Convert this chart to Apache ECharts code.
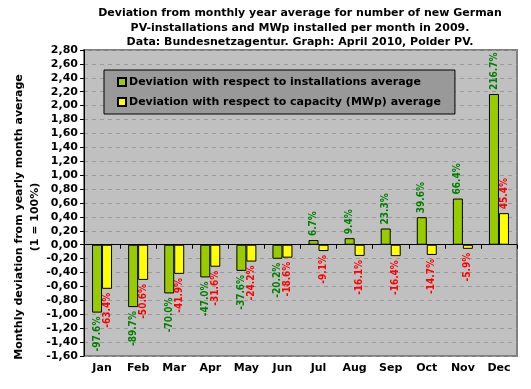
<!DOCTYPE html>
<html>
<head>
<meta charset="utf-8">
<script src="https://cdn.jsdelivr.net/npm/echarts@6/dist/echarts.min.js"></script>
<style>html,body{margin:0;padding:0;background:#fff;}#c{width:531px;height:389px;}</style>
</head>
<body>
<div id="c"></div>
<script>
var months = ['Jan','Feb','Mar','Apr','May','Jun','Jul','Aug','Sep','Oct','Nov','Dec'];
var installDev = [-0.976,-0.897,-0.700,-0.470,-0.376,-0.202,0.067,0.094,0.233,0.396,0.664,2.167];
var capacityDev = [-0.634,-0.506,-0.419,-0.316,-0.242,-0.186,-0.091,-0.161,-0.164,-0.147,-0.059,0.454];
var installName = 'Deviation with respect to installations average';
var capacityName = 'Deviation with respect to capacity (MWp) average';

var FONT = 'DejaVu Sans';
function pct(v){ return (v*100).toFixed(1) + '%'; }
function mkData(arr){
  return arr.map(function(v){
    return {
      value: v,
      label: v >= 0 ?
        {position:'top', align:'left', distance:4} :
        {position:'bottom', align:'right', distance:4}
    };
  });
}
function labelBase(color){
  return {show:true, rotate:90, verticalAlign:'middle', color:color,
    fontFamily:'"DejaVu Sans Condensed", "DejaVu Sans"', fontWeight:'bold', fontSize:10,
    formatter:function(p){return pct(p.value);}};
}
var chart = echarts.init(document.getElementById('c'), null, {renderer:'canvas'});
chart.setOption({
  backgroundColor:'#ffffff',
  animation:false,
  title:{
    text:'Deviation from monthly year average for number of new German\nPV-installations and MWp installed per month in 2009.\nData: Bundesnetzagentur. Graph: April 2010, Polder PV.',
    left:295, top:1, textAlign:'center',
    textStyle:{fontFamily:FONT, fontWeight:'bold', fontSize:11, lineHeight:14.5, color:'#000'}
  },
  legend:{
    orient:'vertical', left:104, top:70,
    backgroundColor:'#999999', borderColor:'#000', borderWidth:1,
    padding:[5,14,5,13], itemGap:6, itemWidth:8, itemHeight:8,
    icon:'rect',
    textStyle:{fontFamily:FONT, fontWeight:'bold', fontSize:11, lineHeight:14, color:'#000', padding:[0,0,0,-2]},
    data:[installName, capacityName]
  },
  graphic:[{
    type:'text', x:27, y:217, rotation:Math.PI/2,
    style:{text:'Monthly deviation from yearly month average\n(1 = 100%)', align:'center', verticalAlign:'middle',
      font:'bold 11px "DejaVu Sans"', fill:'#000', lineHeight:16}
  }],
  grid:{left:84, top:50, right:14, bottom:33, show:true, backgroundColor:'#c0c0c0', borderColor:'#808080', borderWidth:2},
  xAxis:[{
    type:'category', data:months, position:'bottom',
    axisLine:{onZero:true, lineStyle:{color:'#000', width:1}},
    axisTick:{show:true, length:4, lineStyle:{color:'#000'}},
    axisLabel:{show:false}, splitLine:{show:false}
  },{
    type:'category', data:months, position:'bottom',
    axisLine:{show:false, onZero:false}, axisTick:{show:false},
    axisLabel:{show:true, margin:7, fontFamily:FONT, fontWeight:'bold', fontSize:11, color:'#000'}
  }],
  yAxis:{
    type:'value', min:-1.6, max:2.8, interval:0.2,
    axisLine:{show:true, lineStyle:{color:'#000', width:1}},
    axisTick:{show:true, length:4, lineStyle:{color:'#000'}},
    axisLabel:{margin:6, fontFamily:FONT, fontWeight:'bold', fontSize:11, color:'#000',
      formatter:function(v){ return v.toFixed(2).replace('.',','); }},
    splitLine:{show:true, lineStyle:{color:'#999999', type:[4,4], width:1}}
  },
  series:[{
    name:installName, type:'bar', xAxisIndex:0, barWidth:10, barGap:'0%',
    itemStyle:{color:'#99cc00', borderColor:'#000', borderWidth:1},
    label:labelBase('#008000'),
    data:mkData(installDev)
  },{
    name:capacityName, type:'bar', xAxisIndex:0, barWidth:10, barGap:'0%',
    itemStyle:{color:'#ffff00', borderColor:'#000', borderWidth:1},
    label:labelBase('#ff0000'),
    data:mkData(capacityDev)
  }]
});
</script>
</body>
</html>
